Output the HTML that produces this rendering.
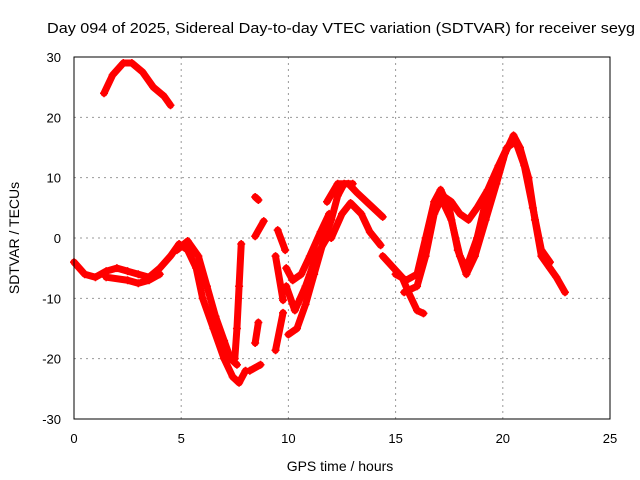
<!DOCTYPE html>
<html><head><meta charset="utf-8"><style>
body{margin:0;background:#fff;}
svg{display:block;font-family:"Liberation Sans",sans-serif;}
</style></head><body>
<svg id="chart" width="640" height="480">
<text x="47" y="33" font-size="15" textLength="588" lengthAdjust="spacingAndGlyphs">Day 094 of 2025, Sidereal Day-to-day VTEC variation (SDTVAR) for receiver seyg</text>
<g id="grid"></g>
<g id="ticks"></g>
<g id="marks"></g>
<rect x="74" y="57" width="536" height="362" fill="none" stroke="#000"/>
<text x="340" y="471" font-size="14" text-anchor="middle">GPS time / hours</text>
<text transform="translate(19,238) rotate(-90)" font-size="14" text-anchor="middle">SDTVAR / TECUs</text>
</svg>
<script>
const xTicks=[0,5,10,15,20,25];
const yTicks=[-30,-20,-10,0,10,20,30];
const arcEarlyH=[1.4,1.8,2.3,2.7,3.2,3.7,4.2,4.5];
const arcEarlyV=[24,27,29,29,27.5,25,23.5,22];
const baseH=[0,0.5,1,1.5,2,2.5,3,3.5,4,4.5,4.9,5.3,5.7,6,6.5,7,7.4,7.7,8];
const baseV=[-4,-6,-6.5,-5.5,-5,-5.5,-6,-6.5,-5,-3,-1,-2,-5,-10,-15,-20,-23,-24,-22];
const vDropH=[4.8,5.3,5.8,6.2,6.6,7,7.3,7.6];
const vDropV=[-2,-0.5,-3,-8,-13,-17,-20,-21];
const lowBaseH=[1.5,2.5,3,3.5,4];
const lowBaseV=[-6.5,-7,-7.5,-7,-6];
const colH=[7.5,7.6,7.7,7.8];
const colV=[-20,-15,-8,-1];
const frag1H=[8.45,8.6];const frag1V=[6.8,6.3];
const frag2H=[8.45,8.85];const frag2V=[0.3,2.8];
const frag3H=[9.5,9.85];const frag3V=[1.3,-2];
const frag4H=[9.4,9.75];const frag4V=[-3,-10.3];
const frag5H=[8.6,8.45];const frag5V=[-14,-17.4];
const frag6H=[9.75,9.4];const frag6V=[-12.4,-18.6];
const frag7H=[8.2,8.7];const frag7V=[-22,-21];
const midAH=[9.9,10.2,10.6,11,11.5,11.9];
const midAV=[-5,-7,-6,-3,1,4];
const midBH=[10,10.4,10.8,11.2,11.6,12,12.3,12.6,13];
const midBV=[-16,-15,-11,-6,-1,3,7,9,9];
const midCH=[9.9,10.3,10.8,11.3,11.8];
const midCV=[-8,-12,-8,-3,0];
const upAH=[11.8,12.3,12.8,13.2,13.8,14.4];
const upAV=[6,9,9,7.5,5.5,3.5];
const upBH=[12,12.5,12.9,13.4,13.8,14.3];
const upBV=[0,4,5.8,4,1,-1.2];
const r1H=[14.4,15.3,15.6,16,16.3];
const r1V=[-3,-6.5,-9,-12,-12.5];
const r2H=[15,15.5,16,16.4,16.8,17.1,17.5,17.9,18.3,18.7,19.2,19.7,20.1,20.5,20.8,21.2,21.5,21.8,22.2,22.5,22.9];
const r2V=[-6,-7,-6,0,6,8,5,-2,-6,-3,3,9,14,17,15,10,3,-3,-5,-6.5,-9];
const r3H=[15.4,16,16.4,16.8,17.2,17.6,18,18.4,18.8,19.3,19.8,20.2,20.6,21,21.4,21.8,22.2];
const r3V=[-9,-8,-3,4,7,6,4,3,5,8,12,15,16,12,5,-2,-4];
const r4H=[17.2,17.6,18,18.3,18.8,19.2,19.7,20];
const r4V=[6,3,-3,-5,0,6,10,13];
const seriesList=[[arcEarlyH,arcEarlyV],[baseH,baseV],[vDropH,vDropV],[lowBaseH,lowBaseV],[colH,colV],
[frag1H,frag1V],[frag2H,frag2V],[frag3H,frag3V],[frag4H,frag4V],[frag5H,frag5V],[frag6H,frag6V],[frag7H,frag7V],
[midAH,midAV],[midBH,midBV],[midCH,midCV],[upAH,upAV],[upBH,upBV],[r1H,r1V],[r2H,r2V],[r3H,r3V],[r4H,r4V]];
const X=h=>74+h*536/25;
const Y=v=>238-v*362/60;
const NS="http://www.w3.org/2000/svg";
const grid=document.getElementById('grid'),ticks=document.getElementById('ticks'),marks=document.getElementById('marks');
function mk(tag,attrs,parent){const e=document.createElementNS(NS,tag);for(const k in attrs)e.setAttribute(k,attrs[k]);parent.appendChild(e);return e;}
xTicks.forEach(t=>{
  if(t>0&&t<25){const l=mk('line',{x1:X(t),x2:X(t),y1:57,y2:419,stroke:'#999','stroke-dasharray':'2,4'},grid);
  
  }
  const tx=mk('text',{x:X(t),y:443,'font-size':13,'text-anchor':'middle'},ticks);tx.textContent=t;
  
  
});
yTicks.forEach(t=>{
  if(t>-30&&t<30){const l=mk('line',{x1:74,x2:610,y1:Y(t),y2:Y(t),stroke:'#999','stroke-dasharray':'2,4'},grid);
  
  }
  const tx=mk('text',{x:61,y:Y(t)+5,'font-size':13,'text-anchor':'end'},ticks);tx.textContent=t;
  
  
});
seriesList.forEach(([hs,vs])=>{
  const pts=hs.map((h,i)=>X(h)+','+Y(vs[i])).join(' ');
  const pl=mk('polyline',{points:pts,fill:'none',stroke:'#ff0000','stroke-width':7,'stroke-linejoin':'round','stroke-linecap':'round'},marks);
  
  
  hs.forEach((h,i)=>{
    const p=mk('path',{d:`M${X(h)-4},${Y(vs[i])}h8M${X(h)},${Y(vs[i])-4}v8`,stroke:'#ff0000','stroke-width':1.5},marks);
    
    
  });
});
</script>
</body></html>
